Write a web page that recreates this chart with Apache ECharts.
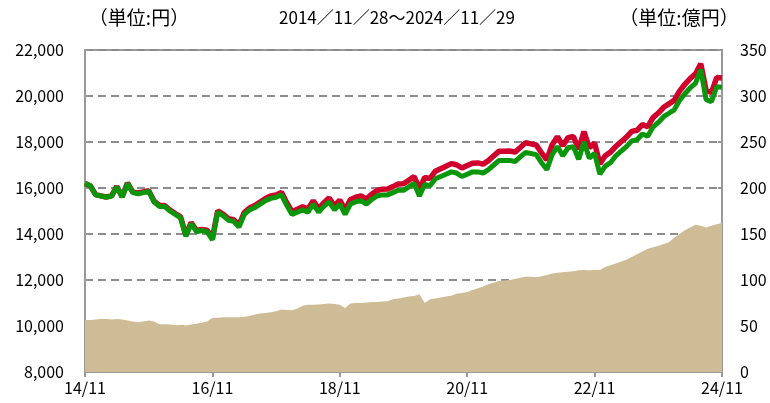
<!DOCTYPE html>
<html>
<head>
<meta charset="utf-8">
<script src="https://cdn.jsdelivr.net/npm/echarts@6/dist/echarts.min.js"></script>
<style>
  html, body { margin: 0; padding: 0; background: #fff; }
  #chart { width: 770px; height: 403px; }
</style>
</head>
<body>
<div id="chart"></div>
<script>
// 月次（2014/11 ～ 2024/11）
const xLabels = ['14/11', '16/11', '18/11', '20/11', '22/11', '24/11'];

// 基準価額（円）
const navValues = [
  16200, 16100, 15700, 15650, 15600, 15650, 16050, 15600, 16200, 15800,
  15750, 15800, 15850, 15400, 15200, 15200, 15000, 14850, 14700, 13900,
  14450, 14100, 14150, 14100, 13750, 14950, 14800, 14600, 14550, 14300,
  14850, 15050, 15150, 15300, 15450, 15550, 15600, 15700, 15250, 14850,
  14950, 15050, 14950, 15300, 14950, 15200, 15400, 15050, 15300, 14850,
  15300, 15400, 15450, 15300, 15500, 15650, 15700, 15700, 15800, 15900,
  15900, 16050, 16200, 15650, 16150, 16100, 16400, 16500, 16600, 16700,
  16650, 16500, 16600, 16700, 16700, 16650, 16800, 17000, 17200, 17200,
  17200, 17150, 17350, 17550, 17500, 17450, 17100, 16800, 17450, 17800,
  17400, 17750, 17800, 17250, 18000, 17300, 17500, 16600, 16950, 17100,
  17400, 17600, 17800, 18050, 18100, 18350, 18250, 18650, 18850, 19100,
  19250, 19400, 19800, 20100, 20350, 20550, 21150, 19850, 19750, 20400,
  20380
];

// 分配金再投資基準価額（円）
const reinvValues = [
  16200, 16100, 15710, 15660, 15610, 15660, 16070, 15620, 16220, 15820,
  15780, 15830, 15880, 15430, 15240, 15240, 15040, 14890, 14750, 13950,
  14500, 14150, 14200, 14160, 13810, 15010, 14870, 14670, 14620, 14380,
  14930, 15130, 15240, 15390, 15540, 15650, 15700, 15810, 15360, 14970,
  15080, 15180, 15090, 15450, 15100, 15360, 15570, 15220, 15480, 15040,
  15500, 15600, 15660, 15520, 15730, 15890, 15950, 15960, 16060, 16170,
  16180, 16340, 16500, 15960, 16460, 16420, 16730, 16840, 16950, 17060,
  17010, 16870, 16980, 17080, 17090, 17040, 17190, 17400, 17600, 17600,
  17610, 17560, 17760, 17970, 17920, 17870, 17530, 17230, 17880, 18230,
  17840, 18190, 18240, 17690, 18450, 17750, 17950, 17050, 17400, 17560,
  17810, 18010, 18210, 18460, 18510, 18760, 18660, 19060, 19260, 19510,
  19660, 19810, 20210, 20510, 20760, 20960, 21400, 20250, 20150, 20800,
  20780
];

// 純資産総額（億円）
const assetValues = [
  56.5, 56.5, 57, 57.5, 57.5, 57, 57.5, 57, 56, 55,
  54, 55, 56, 55, 52, 52, 51.5, 51, 51, 50.5,
  51.5, 52.5, 53.5, 55, 59, 59, 59.5, 59.5, 59.5, 59.5,
  60, 61, 62.5, 63.5, 64, 65, 66, 68, 67.5, 67,
  69, 72, 73, 73, 73.5, 74, 74.5, 74, 73, 69.5,
  74.5, 75, 75, 75.5, 76, 76, 76.5, 77, 79, 80,
  81, 82, 82.5, 84.5, 75, 79, 80, 81, 82, 83,
  85, 86, 87, 89, 91, 93, 95.5, 97, 99, 99.5,
  100, 101, 102.5, 103.5, 103.5, 103, 104, 105.5, 107, 108,
  108.5, 109, 109.5, 110.5, 111, 110.5, 111, 111, 114, 116,
  118, 120, 122, 125, 128, 131, 134, 135.5, 137, 139,
  141, 146, 150, 154, 157, 160, 159, 157, 159, 160.5,
  162
];

const toPairs = arr => arr.map((v, i) => [i, v]);

const FONT = '"Noto Sans CJK JP", sans-serif';
const chart = echarts.init(document.getElementById('chart'), null, { renderer: 'canvas' });

function headText(text, x, size) {
  return {
    type: 'text', x: x, y: 18, z: 10,
    style: {
      text: text, fill: '#000', font: size + 'px ' + FONT,
      textAlign: 'center', textVerticalAlign: 'middle'
    }
  };
}

const option = {
  animation: false,
  backgroundColor: '#fff',
  textStyle: { fontFamily: FONT, color: '#000' },
  graphic: [
    headText('（単位:円）', 139, 19),
    headText('2014／11／28～2024／11／29', 397, 17),
    headText('（単位:億円）', 679, 19)
  ],
  grid: {
    left: 85, right: 48, top: 50, bottom: 31,
    show: true, borderColor: '#999', borderWidth: 2, backgroundColor: 'transparent'
  },
  xAxis: {
    type: 'value',
    min: 0, max: 120, interval: 24,
    axisLine: { lineStyle: { color: '#999', width: 2 } },
    axisTick: { show: true, length: 5, lineStyle: { color: '#999', width: 2 } },
    splitLine: { show: false },
    axisLabel: {
      color: '#000', fontSize: 16, fontFamily: FONT, margin: 8,
      formatter: v => xLabels[v / 24] || ''
    }
  },
  yAxis: [
    {
      type: 'value', min: 8000, max: 22000, interval: 2000,
      axisLine: { show: true, lineStyle: { color: '#999', width: 2 } },
      axisTick: { show: true, inside: true, length: 4, lineStyle: { color: '#999', width: 2 } },
      splitLine: { show: true, lineStyle: { color: '#8c8c8c', width: 2, type: [8, 5] } },
      axisLabel: {
        color: '#000', fontSize: 16, fontFamily: FONT, margin: 21,
        formatter: v => v.toLocaleString('en-US')
      }
    },
    {
      type: 'value', min: 0, max: 350, interval: 50, position: 'right',
      axisLine: { show: true, lineStyle: { color: '#999', width: 2 } },
      axisTick: { show: true, inside: true, length: 4, lineStyle: { color: '#999', width: 2 } },
      splitLine: { show: false },
      axisLabel: { color: '#000', fontSize: 16, fontFamily: FONT, margin: 18 }
    }
  ],
  series: [
    {
      name: '純資産総額',
      type: 'line',
      yAxisIndex: 1,
      data: toPairs(assetValues),
      showSymbol: false,
      lineStyle: { width: 0 },
      areaStyle: { color: '#cdbc96', opacity: 1 },
      z: 1
    },
    {
      name: '分配金再投資基準価額',
      type: 'line',
      data: toPairs(reinvValues),
      showSymbol: false,
      lineStyle: { color: '#d0002c', width: 5.5 },
      z: 3
    },
    {
      name: '基準価額',
      type: 'line',
      data: toPairs(navValues),
      showSymbol: false,
      lineStyle: { color: '#0a960a', width: 5 },
      z: 4
    }
  ]
};

chart.setOption(option);
</script>
</body>
</html>
